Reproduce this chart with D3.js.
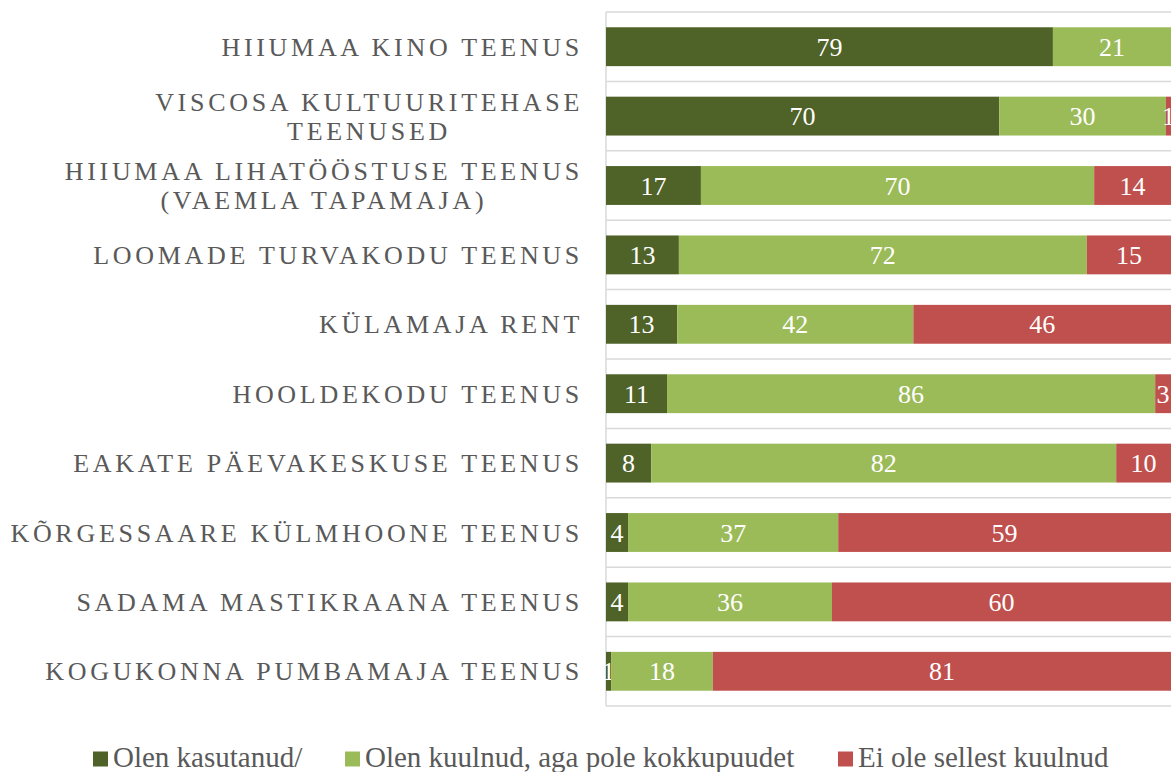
<!DOCTYPE html>
<html>
<head>
<meta charset="utf-8">
<script src="https://cdn.jsdelivr.net/npm/d3@7"></script>
<style>
  body { margin: 0; background: #fff; }
  svg { display: block; }
  .cat { font-family: "Liberation Serif", "Times New Roman", serif; font-size: 26px; fill: #595959; letter-spacing: 3.7px; }
  .val { font-family: "Liberation Serif", "Times New Roman", serif; font-size: 26px; fill: #fff; }
  .leg { font-family: "Liberation Serif", "Times New Roman", serif; font-size: 29px; fill: #595959; }
</style>
</head>
<body>
<div id="chart"></div>
<script>
var width = 1171, height = 772;
var plot = {left: 606, right: 1171, top: 12, bottom: 706};

// categories, top to bottom
var categories = [
    ['HIIUMAA KINO TEENUS'],
    ['VISCOSA KULTUURITEHASE', 'TEENUSED'],
    ['HIIUMAA LIHATÖÖSTUSE TEENUS', '(VAEMLA TAPAMAJA)'],
    ['LOOMADE TURVAKODU TEENUS'],
    ['KÜLAMAJA RENT'],
    ['HOOLDEKODU TEENUS'],
    ['EAKATE PÄEVAKESKUSE TEENUS'],
    ['KÕRGESSAARE KÜLMHOONE TEENUS'],
    ['SADAMA MASTIKRAANA TEENUS'],
    ['KOGUKONNA PUMBAMAJA TEENUS']
];
var seriesNames = ['Olen kasutanud/', 'Olen kuulnud, aga pole kokkupuudet', 'Ei ole sellest kuulnud'];
var used    = [79.1, 69.6, 16.8, 12.9, 12.6, 10.8, 8.0, 3.9, 3.9, 0.9];
var heard   = [20.9, 29.5, 69.6, 72.2, 41.8, 86.4, 82.3, 37.2, 36.1, 18.0];
var unknown = [0,    0.9,  13.6, 14.9, 45.6, 2.8,  9.7,  58.9, 60.0, 81.1];
var colors = ['#4f6228', '#9bbb59', '#c0504d'];

var rows = categories.map(function(c, i) {
    return {key: i, lines: c, used: used[i], heard: heard[i], unknown: unknown[i]};
});
var keys = ['used', 'heard', 'unknown'];

var svg = d3.select('#chart').append('svg')
    .attr('width', width).attr('height', height);

var x = d3.scaleLinear().domain([0, 100]).range([plot.left, plot.right]);
var y = d3.scaleBand()
    .domain(rows.map(d => d.key))
    .range([plot.top, plot.bottom])
    .paddingInner(0.44).paddingOuter(0.22);

// gridlines between categories
var step = y.step();
svg.append('g').selectAll('line')
    .data(d3.range(rows.length + 1))
    .join('line')
    .attr('x1', plot.left).attr('x2', width)
    .attr('y1', d => plot.top + d * step)
    .attr('y2', d => plot.top + d * step)
    .attr('stroke', '#d9d9d9').attr('stroke-width', 1.5);
svg.append('line')
    .attr('x1', plot.left).attr('x2', plot.left)
    .attr('y1', plot.top).attr('y2', plot.bottom)
    .attr('stroke', '#d9d9d9').attr('stroke-width', 1.5);

var stack = d3.stack().keys(keys)(rows);

var layers = svg.append('g').selectAll('g')
    .data(stack)
    .join('g')
    .attr('fill', (d, i) => colors[i]);

layers.selectAll('rect')
    .data(d => d)
    .join('rect')
    .attr('x', d => x(d[0]))
    .attr('y', d => y(d.data.key))
    .attr('width', d => x(d[1]) - x(d[0]))
    .attr('height', y.bandwidth());

layers.selectAll('text')
    .data(d => d.filter(s => s[1] - s[0] > 0))
    .join('text')
    .attr('class', 'val')
    .attr('x', d => (x(d[0]) + Math.min(x(d[1]), width)) / 2)
    .attr('y', d => y(d.data.key) + y.bandwidth() / 2)
    .attr('dy', '0.35em')
    .attr('text-anchor', 'middle')
    .text(d => d3.format('.0f')(d[1] - d[0]));

// category labels, wrapped lines centred on each other, block right-aligned
var labelRight = 583, lineH = 29;
rows.forEach(function(r) {
    var cy = y(r.key) + y.bandwidth() / 2;
    var g = svg.append('g');
    var texts = r.lines.map(function(line, j) {
        return g.append('text')
            .attr('class', 'cat')
            .attr('text-anchor', 'middle')
            .attr('y', cy + (j - (r.lines.length - 1) / 2) * lineH)
            .attr('dy', '0.35em')
            .text(line);
    });
    var maxW = d3.max(texts, t => t.node().getComputedTextLength());
    texts.forEach(t => t.attr('x', labelRight - maxW / 2));
});

// legend
var legX = [93, 345, 838], legY = 759;
var leg = svg.append('g').selectAll('g')
    .data(seriesNames)
    .join('g')
    .attr('transform', (d, i) => `translate(${legX[i]},${legY})`);
leg.append('rect')
    .attr('x', 0).attr('y', -7.5)
    .attr('width', 15).attr('height', 15)
    .attr('fill', (d, i) => colors[i]);
leg.append('text')
    .attr('class', 'leg')
    .attr('x', 20).attr('y', 8)
    .text(d => d);
</script>
</body>
</html>
